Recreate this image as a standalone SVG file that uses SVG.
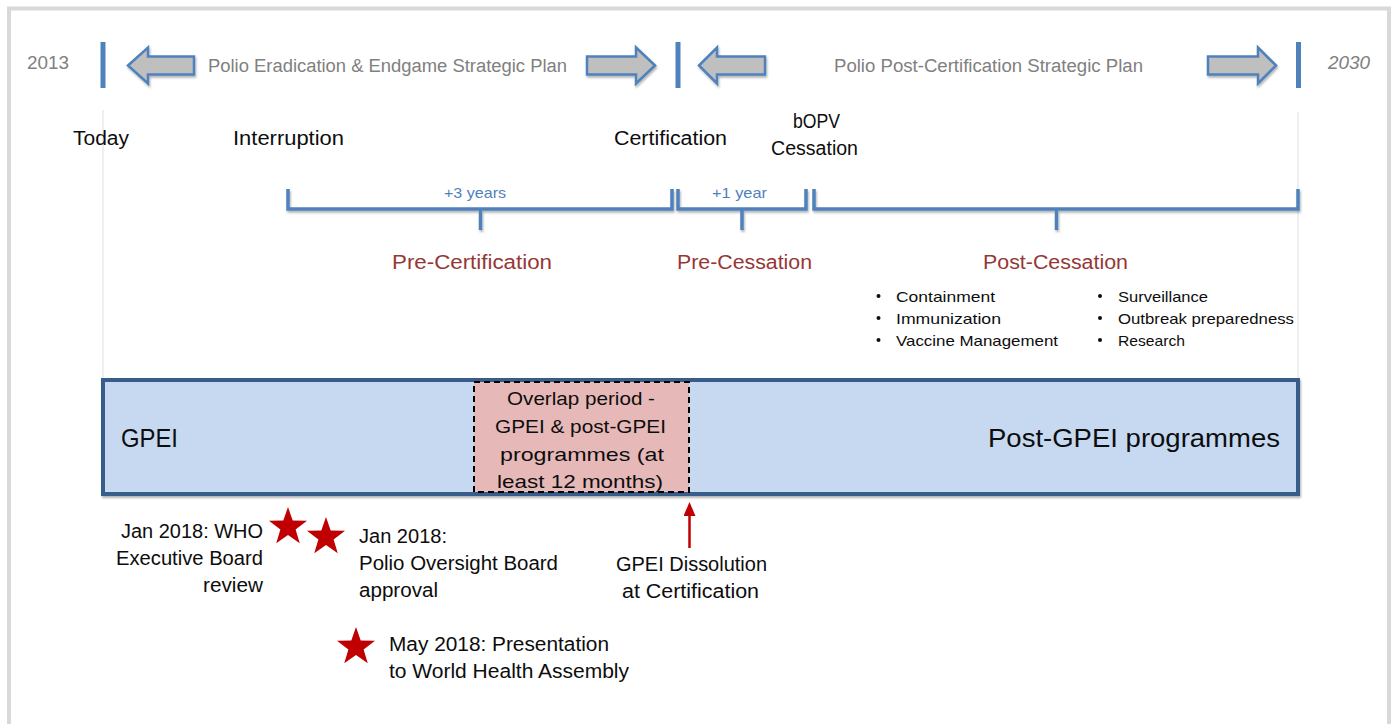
<svg xmlns="http://www.w3.org/2000/svg" width="1395" height="724" viewBox="0 0 1395 724">
<defs>
<style>
text{font-family:"Liberation Sans",Arial,sans-serif;}
.lbl{font-size:20px;fill:#0d0d0d;}
.plan{font-size:18px;fill:#808080;}
.yr{font-size:18px;fill:#808080;}
.dur{font-size:15px;fill:#4f81bd;}
.phase{font-size:20px;fill:#953735;}
.bul{font-size:15px;fill:#0d0d0d;}
.big{font-size:26px;fill:#0d0d0d;}
.box{font-size:19px;fill:#0d0d0d;}
.note{font-size:19.5px;fill:#0d0d0d;}
.bar{fill:#4f81bd;}
.parr{fill:#bfbfbf;stroke:#4f81bd;stroke-width:2.5;stroke-linejoin:miter;}
.brk{fill:none;stroke:#4f81bd;stroke-width:3.5;stroke-linejoin:miter;}
.guide{stroke:#efefef;stroke-width:2;}
.star{fill:#c00000;}
</style>
<filter id="sh" x="-5%" y="-20%" width="110%" height="150%">
<feDropShadow dx="1" dy="2" stdDeviation="1.2" flood-color="#000" flood-opacity="0.3"/>
</filter>
<path id="starShape" d="M0,-20 L4.7,-6.47 L19.02,-6.18 L7.61,2.47 L11.76,16.18 L0,8 L-11.76,16.18 L-7.61,2.47 L-19.02,-6.18 L-4.7,-6.47 Z"/>
<marker id="redHead" viewBox="0 0 14 12" refX="2" refY="6" markerWidth="14" markerHeight="12" markerUnits="userSpaceOnUse" orient="auto">
<path d="M0,0 L14,6 L0,12 Z" fill="#c00000"/>
</marker>
</defs>

<rect width="1395" height="724" fill="#ffffff"/>
<rect id="frame" x="9" y="8.5" width="1380" height="740" fill="none" stroke="#d9d9d9" stroke-width="4"/>

<g id="guides">
<line class="guide" x1="103" y1="110" x2="103" y2="380"/>
<line class="guide" x1="1298" y1="112" x2="1298" y2="380"/>
</g>

<g id="strategic-plans">
<rect class="bar" x="100.5" y="42" width="5" height="46"/>
<rect class="bar" x="675.5" y="42" width="5" height="46"/>
<rect class="bar" x="1296" y="42" width="5" height="46"/>
<g filter="url(#sh)">
<polygon class="parr" points="128,65.5 148,47.5 148,56.5 194,56.5 194,74.5 148,74.5 148,83.5"/>
<polygon class="parr" points="655,65.5 636,47.5 636,56.5 587,56.5 587,74.5 636,74.5 636,83.5"/>
<polygon class="parr" points="699,65.5 717,47.5 717,56.5 765,56.5 765,74.5 717,74.5 717,83.5"/>
<polygon class="parr" points="1276,65.5 1258,47.5 1258,56.5 1208,56.5 1208,74.5 1258,74.5 1258,83.5"/>
</g>
<text class="yr" x="27" y="69" textLength="42" lengthAdjust="spacingAndGlyphs">2013</text>
<text class="yr" x="1328" y="69" font-style="italic" textLength="42" lengthAdjust="spacingAndGlyphs">2030</text>
<text class="plan" x="208" y="72" textLength="359" lengthAdjust="spacingAndGlyphs">Polio Eradication &amp; Endgame Strategic Plan</text>
<text class="plan" x="834" y="72" textLength="309" lengthAdjust="spacingAndGlyphs">Polio Post-Certification Strategic Plan</text>
</g>

<g id="milestones">
<text class="lbl" x="73" y="145" textLength="56" lengthAdjust="spacingAndGlyphs">Today</text>
<text class="lbl" x="233" y="145" textLength="111" lengthAdjust="spacingAndGlyphs">Interruption</text>
<text class="lbl" x="614" y="145" textLength="113" lengthAdjust="spacingAndGlyphs">Certification</text>
<text class="lbl" x="793" y="128" textLength="47" lengthAdjust="spacingAndGlyphs">bOPV</text>
<text class="lbl" x="771" y="155" textLength="87" lengthAdjust="spacingAndGlyphs">Cessation</text>
</g>

<g id="phase-pre-certification">
<path class="brk" filter="url(#sh)" d="M288,189 V209 H672 V189 M480.5,209 V230"/>
<text class="dur" x="444" y="198" textLength="62" lengthAdjust="spacingAndGlyphs">+3 years</text>
<text class="phase" x="392" y="269" textLength="160" lengthAdjust="spacingAndGlyphs">Pre-Certification</text>
</g>

<g id="phase-pre-cessation">
<path class="brk" filter="url(#sh)" d="M678,189 V209 H806 V189 M742,209 V230"/>
<text class="dur" x="712" y="198" textLength="55" lengthAdjust="spacingAndGlyphs">+1 year</text>
<text class="phase" x="677" y="269" textLength="135" lengthAdjust="spacingAndGlyphs">Pre-Cessation</text>
</g>

<g id="phase-post-cessation">
<path class="brk" filter="url(#sh)" d="M814,189 V209 H1298 V189 M1056.5,209 V230"/>
<text class="phase" x="983" y="269" textLength="145" lengthAdjust="spacingAndGlyphs">Post-Cessation</text>
<g>
<circle cx="878.5" cy="296" r="2" fill="#0d0d0d"/>
<circle cx="878.5" cy="318" r="2" fill="#0d0d0d"/>
<circle cx="878.5" cy="340" r="2" fill="#0d0d0d"/>
<circle cx="1100" cy="296" r="2" fill="#0d0d0d"/>
<circle cx="1100" cy="318" r="2" fill="#0d0d0d"/>
<circle cx="1100" cy="340" r="2" fill="#0d0d0d"/>
</g>
<text class="bul" x="896" y="302" textLength="99" lengthAdjust="spacingAndGlyphs">Containment</text>
<text class="bul" x="896" y="324" textLength="105" lengthAdjust="spacingAndGlyphs">Immunization</text>
<text class="bul" x="896" y="346" textLength="162" lengthAdjust="spacingAndGlyphs">Vaccine Management</text>
<text class="bul" x="1118" y="302" textLength="90" lengthAdjust="spacingAndGlyphs">Surveillance</text>
<text class="bul" x="1118" y="324" textLength="176" lengthAdjust="spacingAndGlyphs">Outbreak preparedness</text>
<text class="bul" x="1118" y="346" textLength="67" lengthAdjust="spacingAndGlyphs">Research</text>
</g>

<g id="programmes">
<rect x="103" y="380" width="1195" height="114" fill="#c6d9f1" stroke="#385d8a" stroke-width="4" filter="url(#sh)"/>
<text class="big" x="121" y="447" textLength="57" lengthAdjust="spacingAndGlyphs">GPEI</text>
<text class="big" x="988" y="447" textLength="292" lengthAdjust="spacingAndGlyphs">Post-GPEI programmes</text>
</g>

<g id="overlap">
<rect x="474" y="382" width="215" height="110" fill="#e6b9b8" stroke="#000" stroke-width="2" stroke-dasharray="6,4"/>
<text class="box" x="507" y="405" textLength="148" lengthAdjust="spacingAndGlyphs">Overlap period -</text>
<text class="box" x="495" y="433" textLength="171" lengthAdjust="spacingAndGlyphs">GPEI &amp; post-GPEI</text>
<text class="box" x="500" y="461" textLength="164" lengthAdjust="spacingAndGlyphs">programmes (at</text>
<text class="box" x="497" y="488" textLength="166" lengthAdjust="spacingAndGlyphs">least 12 months)</text>
</g>

<g id="connectors">
<line x1="689.5" y1="548" x2="689.5" y2="514" stroke="#c00000" stroke-width="2.5" marker-end="url(#redHead)"/>
</g>

<g id="dissolution">
<text class="note" x="616" y="571" textLength="151" lengthAdjust="spacingAndGlyphs">GPEI Dissolution</text>
<text class="note" x="622" y="598" textLength="137" lengthAdjust="spacingAndGlyphs">at Certification</text>
</g>

<g id="who-review">
<use href="#starShape" class="star" transform="translate(288,527)"/>
<text class="note" x="263" y="538" text-anchor="end" textLength="142" lengthAdjust="spacingAndGlyphs">Jan 2018: WHO</text>
<text class="note" x="263" y="565" text-anchor="end" textLength="147" lengthAdjust="spacingAndGlyphs">Executive Board</text>
<text class="note" x="263" y="592" text-anchor="end" textLength="60" lengthAdjust="spacingAndGlyphs">review</text>
</g>

<g id="pob-approval">
<use href="#starShape" class="star" transform="translate(326,537)"/>
<text class="note" x="359" y="543" textLength="88" lengthAdjust="spacingAndGlyphs">Jan 2018:</text>
<text class="note" x="359" y="570" textLength="199" lengthAdjust="spacingAndGlyphs">Polio Oversight Board</text>
<text class="note" x="359" y="597" textLength="79" lengthAdjust="spacingAndGlyphs">approval</text>
</g>

<g id="wha-presentation">
<use href="#starShape" class="star" transform="translate(356,647)"/>
<text class="note" x="389" y="651" textLength="220" lengthAdjust="spacingAndGlyphs">May 2018: Presentation</text>
<text class="note" x="389" y="678" textLength="240" lengthAdjust="spacingAndGlyphs">to World Health Assembly</text>
</g>
</svg>
